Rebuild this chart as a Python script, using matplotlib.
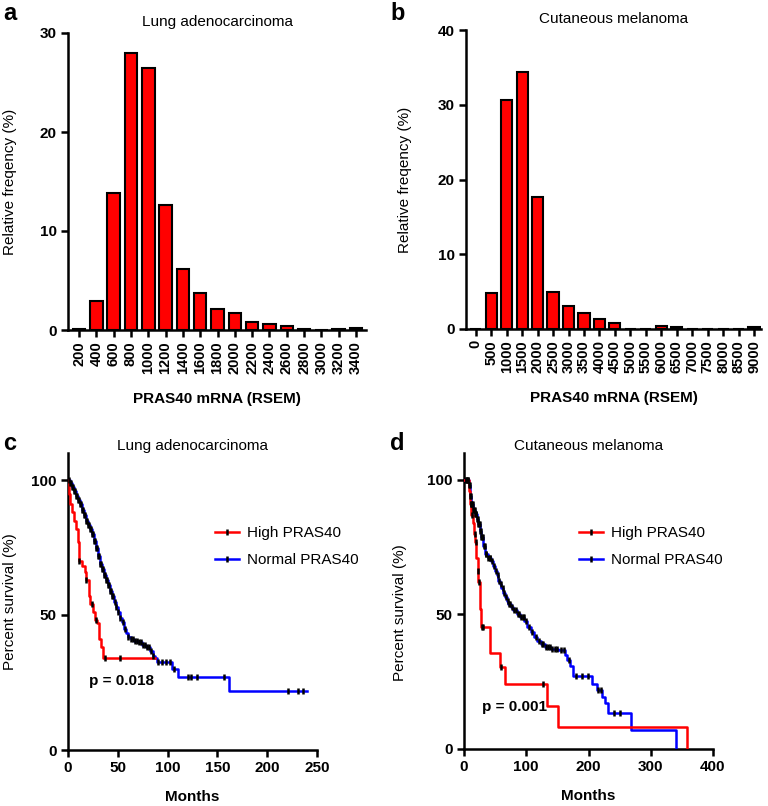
import numpy as np
import matplotlib
matplotlib.use("Agg")
import matplotlib.pyplot as plt
from matplotlib.lines import Line2D

plt.rcParams["font.family"] = ["Liberation Sans", "DejaVu Sans"]

# ---- histogram data ----
LUNG_BINS = ["200", "400", "600", "800", "1000", "1200", "1400", "1600", "1800",
             "2000", "2200", "2400", "2600", "2800", "3000", "3200", "3400"]
LUNG_FREQ = [0.15, 2.9, 13.8, 28.0, 26.5, 12.6, 6.2, 3.7, 2.1, 1.7, 0.8, 0.6,
             0.4, 0.15, 0.0, 0.15, 0.2]

MEL_BINS = ["0", "500", "1000", "1500", "2000", "2500", "3000", "3500", "4000",
            "4500", "5000", "5500", "6000", "6500", "7000", "7500", "8000",
            "8500", "9000"]
MEL_FREQ = [0.0, 4.8, 30.7, 34.4, 17.7, 5.0, 3.1, 2.2, 1.3, 0.8, 0.0, 0.0,
            0.45, 0.25, 0.0, 0.0, 0.0, 0.0, 0.3]

# ---- Kaplan-Meier steps (months, % survival after the step) ----
LUNG_HIGH_T = [0, 1, 2, 4, 6, 8, 10, 11, 14, 17, 18, 21, 22, 25, 27, 29, 31, 33, 35, 87]
LUNG_HIGH_S = [100, 95, 91, 88, 85, 82, 77, 70, 68, 66, 63, 57, 54, 51, 48, 47, 41, 38, 34, 34]
LUNG_HIGH_CENS = [11, 18, 24, 28, 37, 52]

LUNG_NORM_T = [0, 2, 4, 6, 8, 10, 12, 14, 16, 18, 20, 22, 24, 26, 28, 30, 32, 34, 36,
               38, 40, 42, 44, 46, 48, 50, 52, 54, 56, 58, 60, 63, 66, 70, 74, 78,
               82, 85, 87, 89, 104, 110, 162, 240]
LUNG_NORM_S = [100, 99, 97.5, 96, 94, 92.5, 91, 89, 87, 85, 83.5, 82, 80, 77.5, 75,
               72, 69, 67, 65, 63, 61, 59, 57, 55, 53, 51, 49, 47.5, 45, 43.5, 42,
               41, 40.5, 40, 39, 38, 36.5, 35, 34, 32.5, 30, 27, 22, 22]
LUNG_NORM_CENS = [1, 2, 3, 4, 5, 6, 7, 8, 9, 10, 11, 12, 13, 14, 15, 16, 17, 18, 19,
                  20, 21, 22, 23, 24, 25, 26, 27, 28, 29, 30, 31, 32, 33, 34, 35, 36,
                  37, 38, 39, 40, 41, 42, 43, 44, 45, 47, 48, 50, 52, 55, 57,
                  60, 63, 65, 67, 69, 71, 73, 75, 77, 79, 81, 83, 85, 90, 94, 98,
                  102, 106, 120, 123, 130, 157, 221, 231, 236]

MEL_HIGH_T = [0, 8, 10, 12, 14, 16, 18, 20, 22, 23, 25, 26, 27, 42, 58, 66, 133, 151, 358, 358]
MEL_HIGH_S = [100, 96, 91, 87, 84, 80, 77, 71, 66, 62, 57, 52, 45.5, 35.5, 30.5, 24,
              16, 8, 0, 0]
MEL_HIGH_CENS = [11, 13, 17, 19, 22, 24, 29, 31, 60, 127]

MEL_NORM_T = [0, 8, 10, 12, 15, 18, 21, 23, 26, 28, 31, 34, 38, 44, 47, 50, 53, 55,
              58, 60, 63, 66, 69, 71, 75, 79, 85, 90, 97, 102, 107, 112, 118, 124,
              130, 140, 151, 162, 166, 170, 175, 205, 213, 221, 226, 231, 268, 340, 340]
MEL_NORM_S = [100, 98, 94, 91, 89, 87.4, 85.5, 83.7, 81, 78.6, 75.5, 72.5, 71, 70, 68,
              66.3, 64.5, 62.6, 61.2, 60, 58, 56.4, 55, 54, 52.7, 51.5, 50.2, 49,
              47.5, 45.5, 43.5, 41.6, 40, 39, 38, 37.3, 36.7, 35, 33, 31, 27, 24,
              22, 19.5, 17, 13.2, 7, 0, 0]
MEL_NORM_CENS = [3, 4, 5, 6, 7, 8, 9, 10, 11, 12, 13, 14, 15, 16, 17, 18, 19, 20, 21,
                 22, 23, 24, 25, 26, 27, 28, 29, 30, 32, 33, 35, 36, 39, 41, 42, 45,
                 48, 51, 54, 57, 59, 62, 64, 67, 70, 72, 74, 77, 80, 83, 86, 88, 91,
                 94, 96, 99, 104, 110, 115, 120, 125, 127, 131, 135, 138, 142, 146,
                 150, 156, 160, 168, 180, 190, 199, 216, 220, 241, 250]

RED = "#ff0000"
BLUE = "#0000ff"
W, H = 768, 806
FS = 11


def px_axes(fig, left, top, right, bottom):
    return fig.add_axes([left / W, 1 - bottom / H, (right - left) / W, (bottom - top) / H])


def style_axes(ax, tick_fs=FS):
    for s in ("top", "right"):
        ax.spines[s].set_visible(False)
    for s in ("left", "bottom"):
        ax.spines[s].set_linewidth(1.8)
    ax.tick_params(direction="out", length=5, width=1.8, labelsize=tick_fs, pad=3)
    for lab in ax.get_xticklabels() + ax.get_yticklabels():
        lab.set_fontweight("bold")


def draw_hist(ax, bins, freq, ymax, yticks, title, xlim, ylab_x):
    x = np.arange(len(bins))
    ax.bar(x, freq, width=0.72, color=RED, edgecolor="black", linewidth=1.5, zorder=3)
    ax.set_xticks(x)
    ax.set_xticklabels(bins, rotation=90)
    ax.set_yticks(yticks)
    ax.set_ylim(0, ymax)
    ax.set_xlim(*xlim)
    style_axes(ax)
    ax.tick_params(axis="x", labelsize=10.5)
    ax.set_ylabel("Relative freqency (%)", fontsize=FS)
    ax.yaxis.set_label_coords(ylab_x, 0.5)
    ax.set_xlabel("PRAS40 mRNA (RSEM)", fontsize=FS, fontweight="bold", labelpad=13)
    ax.set_title(title, fontsize=FS, pad=5)


def surv_at(t_steps, s_steps, t):
    i = np.searchsorted(t_steps, t, side="right") - 1
    return np.asarray(s_steps)[i]


def draw_km(ax, t, s, cens, color):
    ax.step(t, s, where="post", color=color, linewidth=1.8, zorder=3)
    cy = [surv_at(t, s, c) for c in cens]
    ax.plot(cens, cy, linestyle="none", marker="|", markersize=5,
            markeredgewidth=1.8, color="black", zorder=4)


def draw_surv(ax, high, norm, xmax, xticks, title, ptext, pxy, ylab_xy, leg_x):
    draw_km(ax, *norm, BLUE)
    draw_km(ax, *high, RED)
    ax.set_xlim(0, xmax)
    ax.set_ylim(0, 110)
    ax.set_xticks(xticks)
    ax.set_yticks([0, 50, 100])
    style_axes(ax)
    ax.set_ylabel("Percent survival (%)", fontsize=FS)
    ax.yaxis.set_label_coords(*ylab_xy)
    ax.set_xlabel("Months", fontsize=FS, fontweight="bold", labelpad=11)
    ax.set_title(title, fontsize=FS, pad=-2)
    ax.text(pxy[0], pxy[1], ptext, fontsize=FS, fontweight="bold", transform=ax.transData)
    handles = [
        Line2D([], [], color=RED, lw=1.8, marker="|", markersize=5,
               markeredgecolor="black", markeredgewidth=1.8),
        Line2D([], [], color=BLUE, lw=1.8, marker="|", markersize=5,
               markeredgecolor="black", markeredgewidth=1.8),
    ]
    ax.legend(handles, ["High PRAS40", "Normal PRAS40"], loc="upper left",
              bbox_to_anchor=(leg_x, 0.8), frameon=False, fontsize=11,
              handlelength=1.6, handletextpad=0.5, labelspacing=0.85, numpoints=1)


fig = plt.figure(figsize=(W / 100, H / 100), dpi=100)

ax_a = px_axes(fig, 68, 33, 366, 330)
draw_hist(ax_a, LUNG_BINS, LUNG_FREQ, 30, [0, 10, 20, 30], "Lung adenocarcinoma",
          (-0.64, 16.58), -0.171)

ax_b = px_axes(fig, 466, 30, 761, 329)
draw_hist(ax_b, MEL_BINS, MEL_FREQ, 40, [0, 10, 20, 30, 40], "Cutaneous melanoma",
          (-0.63, 18.45), -0.183)

ax_c = px_axes(fig, 68, 453, 317, 750)
draw_surv(ax_c, (LUNG_HIGH_T, LUNG_HIGH_S, LUNG_HIGH_CENS),
          (LUNG_NORM_T, LUNG_NORM_S, LUNG_NORM_CENS),
          250, [0, 50, 100, 150, 200, 250], "Lung adenocarcinoma", "p = 0.018", (21, 24),
          (-0.205, 0.5), 0.535)

ax_d = px_axes(fig, 464, 453, 713, 749)
draw_surv(ax_d, (MEL_HIGH_T, MEL_HIGH_S, MEL_HIGH_CENS),
          (MEL_NORM_T, MEL_NORM_S, MEL_NORM_CENS),
          400, [0, 100, 200, 300, 400], "Cutaneous melanoma", "p = 0.001", (29, 14),
          (-0.229, 0.46), 0.405)

for lab, x, y in [("a", 3, 14), ("b", 390, 14), ("c", 3, 443), ("d", 390, 443)]:
    fig.text(x / W, 1 - y / H, lab, fontsize=17, fontweight="bold", va="center")

fig.savefig("out.png", dpi=100)
